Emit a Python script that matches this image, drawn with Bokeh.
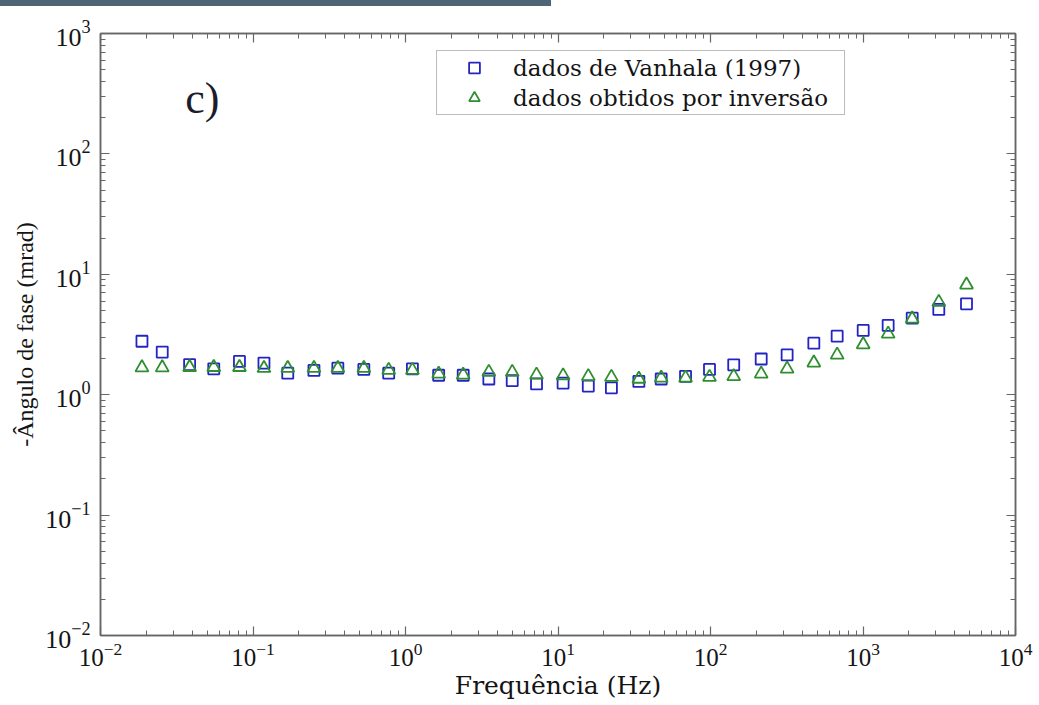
from bokeh.plotting import figure
from bokeh.models import (Range1d, FixedTicker, LogAxis, Legend, LegendItem,
                          Label, Div, ColumnDataSource)
from bokeh.layouts import column
from bokeh.embed import file_html
from bokeh.resources import INLINE

# Frequency (Hz) of each measurement
freq_hz = [0.0187, 0.0254, 0.0384, 0.0553, 0.0815, 0.118, 0.169, 0.251, 0.360,
           0.533, 0.776, 1.11, 1.65, 2.39, 3.52, 5.01, 7.23, 10.8, 15.8, 22.4,
           33.9, 47.5, 68.6, 98.5, 142, 215, 318, 476, 677, 1003, 1462, 2102,
           3141, 4772]

# -phase angle (mrad), Vanhala (1997)
vanhala = [2.78, 2.26, 1.78, 1.64, 1.89, 1.83, 1.51, 1.59, 1.66, 1.62, 1.51,
           1.64, 1.45, 1.45, 1.35, 1.31, 1.23, 1.25, 1.18, 1.14, 1.29, 1.35,
           1.42, 1.62, 1.77, 1.98, 2.14, 2.68, 3.06, 3.42, 3.76, 4.32, 5.11,
           5.69]

# -phase angle (mrad) from the inversion
inversao = [1.68, 1.68, 1.69, 1.69, 1.69, 1.66, 1.66, 1.66, 1.66, 1.66, 1.60,
            1.60, 1.49, 1.46, 1.54, 1.54, 1.46, 1.44, 1.42, 1.40, 1.35, 1.38,
            1.38, 1.40, 1.42, 1.49, 1.64, 1.84, 2.14, 2.61, 3.20, 4.27, 5.87,
            8.18]

series_labels = ["dados de Vanhala (1997)", "dados obtidos por inversão"]
x_title = "Frequência (Hz)"
y_title = "-Ângulo de fase (mrad)"
panel_tag = "c)"

x_decades = [-2, -1, 0, 1, 2, 3, 4]
y_decades = [-2, -1, 0, 1, 2, 3]

SERIF = "Liberation Serif"
WIDE_SERIF = "DejaVu Serif"
AXIS_GREY = "#666666"
TEXT = "#141414"


def decade_ticker(decades):
    majors = [10.0 ** d for d in decades]
    minors = [k * 10.0 ** d for d in decades[:-1] for k in range(2, 10)]
    return FixedTicker(ticks=majors, minor_ticks=minors)


p = figure(width=1039, height=699,
           x_axis_type="log", y_axis_type="log",
           x_range=Range1d(10.0 ** x_decades[0], 10.0 ** x_decades[-1]),
           y_range=Range1d(10.0 ** y_decades[0], 10.0 ** y_decades[-1]),
           output_backend="svg", toolbar_location=None,
           min_border_left=100, min_border_right=24,
           min_border_top=27, min_border_bottom=70,
           background_fill_color="white", border_fill_color="white")

p.xgrid.visible = False
p.ygrid.visible = False
p.outline_line_color = AXIS_GREY
p.outline_line_width = 1.5

bottom_axis = p.below[0]
left_axis = p.left[0]
bottom_axis.ticker = decade_ticker(x_decades)
left_axis.ticker = decade_ticker(y_decades)

# mirrored, label-free axes on top and right
top_axis = LogAxis(ticker=decade_ticker(x_decades))
right_axis = LogAxis(ticker=decade_ticker(y_decades))
p.add_layout(top_axis, "above")
p.add_layout(right_axis, "right")

for ax in (bottom_axis, left_axis, top_axis, right_axis):
    ax.axis_line_color = AXIS_GREY
    ax.axis_line_width = 1.5
    ax.major_tick_line_color = AXIS_GREY
    ax.minor_tick_line_color = AXIS_GREY
    ax.major_tick_line_width = 1.2
    ax.minor_tick_line_width = 1.0
    ax.major_tick_in = 9
    ax.major_tick_out = 0
    ax.minor_tick_in = 5
    ax.minor_tick_out = 0
    ax.major_label_text_font = SERIF
    ax.major_label_text_font_size = "26px"
    ax.major_label_text_color = TEXT

for ax in (top_axis, right_axis):
    ax.major_label_text_font_size = "1px"
    ax.major_label_text_alpha = 0.0
    ax.major_label_standoff = 0

bottom_axis.major_label_text_font_size = "25px"
bottom_axis.major_label_standoff = 7
left_axis.major_label_standoff = 10

bottom_axis.axis_label = x_title
bottom_axis.axis_label_text_font = WIDE_SERIF
bottom_axis.axis_label_text_font_size = "25px"
bottom_axis.axis_label_text_font_style = "normal"
bottom_axis.axis_label_text_color = TEXT
bottom_axis.axis_label_standoff = 2

left_axis.axis_label = y_title
left_axis.axis_label_text_font = SERIF
left_axis.axis_label_text_font_size = "24px"
left_axis.axis_label_text_font_style = "normal"
left_axis.axis_label_text_color = TEXT
left_axis.axis_label_standoff = 4

src = ColumnDataSource(dict(f=freq_hz, v=vanhala, inv=inversao))

r_van = p.scatter("f", "v", source=src, marker="square", size=11,
                  fill_color=None, line_color="#2424c4", line_width=1.8)
r_inv = p.scatter("f", "inv", source=src, marker="triangle", size=13,
                  fill_color=None, line_color="#2f8f2f", line_width=1.8)

legend = Legend(items=[LegendItem(label=series_labels[0], renderers=[r_van]),
                       LegendItem(label=series_labels[1], renderers=[r_inv])],
                location=(336, 520),
                padding=3, spacing=3, margin=0,
                glyph_width=68, glyph_height=27,
                label_height=27, label_width=328, label_standoff=5,
                label_text_font=WIDE_SERIF, label_text_font_size="23px",
                label_text_color=TEXT,
                border_line_color="#7a7a7a", border_line_width=1.5,
                background_fill_color="white", background_fill_alpha=1.0)
p.add_layout(legend, "center")

p.add_layout(Label(x=0.036, y=290, text=panel_tag,
                   text_font=SERIF, text_font_size="44px",
                   text_color="#1c1c2a", text_baseline="alphabetic"))

top_bar = Div(text="", width=551, height=6, margin=0,
              styles={"background-color": "#4e6576", "width": "551px",
                      "height": "6px"})

layout = column(top_bar, p, spacing=0, margin=0)

open("out.html", "w").write(file_html(layout, INLINE))
